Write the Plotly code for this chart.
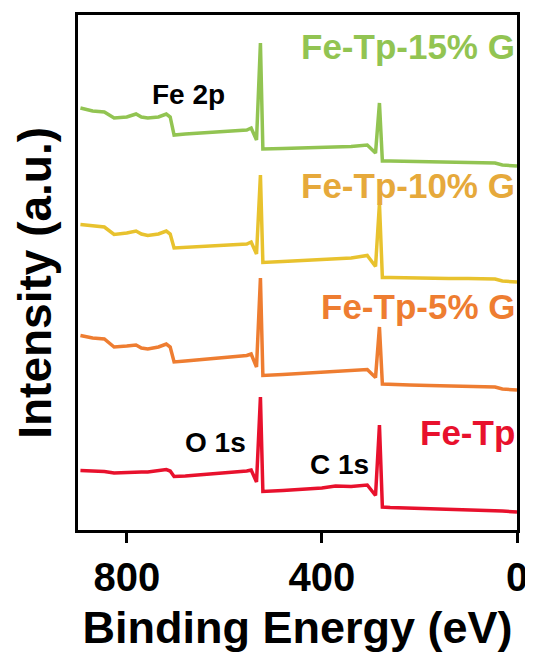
import plotly.graph_objects as go

# Binding energy (eV), shared by all spectra
energy = [895, 870, 846, 826, 800, 781, 770, 757, 735, 719, 711, 703, 680, 640, 600,
          554, 545, 534, 526, 521, 480, 440, 400, 372, 340, 307, 290, 282, 276, 260,
          220, 180, 140, 100, 60, 45, 30, 0]

# Offset intensities (a.u.)
fe_tp_15 = [422, 419, 418, 412, 413, 416, 413, 412, 413, 416, 413, 395, 396, 397, 398,
            400, 402, 390, 487, 381, 381.5, 382, 382.5, 383, 383.5, 385, 377, 427, 369, 369,
            368.5, 368, 368, 367.5, 367, 367, 365, 364]
fe_tp_10 = [305.5, 304, 303, 295.5, 297, 299, 296, 294.5, 296, 299, 296, 282, 282.5, 283.5, 284.5,
            286, 288, 276, 355, 267.5, 268.5, 269.5, 270.5, 271.5, 272, 274.5, 263.5, 326.5, 252.5, 252.5,
            252, 252, 251.5, 251.5, 251, 251, 249, 248]
fe_tp_5 = [194.5, 192, 191, 183, 184, 185, 182, 181, 183, 186, 183, 168, 169, 170.5, 172,
           174.5, 176, 163, 252, 154.5, 155.5, 156.5, 157.5, 158, 159, 160.5, 152.5, 203, 146, 145.5,
           145, 144.5, 144, 143.5, 143, 143, 141, 140]
fe_tp = [59.5, 59, 58.5, 57, 57.5, 58.5, 58, 58, 59, 60.5, 59, 53.5, 54, 55.5, 57,
         59, 60, 48, 133, 38.5, 39.5, 40.5, 42, 44, 43.5, 45, 34.5, 105, 23, 22.5,
         22, 21.5, 21, 20.5, 20, 20, 19, 18]

series_names = ["Fe-Tp", "Fe-Tp-5% G", "Fe-Tp-10% G", "Fe-Tp-15% G"]
line_colors = ["#e8112d", "#ee7d31", "#e8c22e", "#92c452"]
label_colors = ["#e8112d", "#ee7d31", "#e6a93b", "#92c452"]
x_ticks = [800, 400, 0]

FONT = "Liberation Sans, Arial, Helvetica, sans-serif"

fig = go.Figure()
for name, ys, col in zip(series_names, [fe_tp, fe_tp_5, fe_tp_10, fe_tp_15], line_colors):
    fig.add_trace(go.Scatter(x=energy, y=ys, mode="lines", name=name,
                             line=dict(color=col, width=3.5), showlegend=False))

# series labels
label_pos = [(1, 98), (1, 224), (1, 345), (1, 484)]
for name, col, (lx, ly) in zip(series_names, label_colors, label_pos):
    fig.add_annotation(x=lx, y=ly, xref="x", yref="y", text="<b>%s</b>" % name,
                       showarrow=False, xanchor="right", yanchor="middle",
                       font=dict(family=FONT, size=35, color=col))

# peak labels
peaks = [("Fe 2p", 673, 436), ("O 1s", 618, 88), ("C 1s", 363, 66)]
for txt, px, py in peaks:
    fig.add_annotation(x=px, y=py, xref="x", yref="y", text="<b>%s</b>" % txt,
                       showarrow=False, xanchor="center", yanchor="middle",
                       font=dict(family=FONT, size=28, color="black"))

# y-axis title
fig.add_annotation(x=-0.098, y=0.48, xref="paper", yref="paper",
                   text="<b>Intensity (a.u.)</b>", textangle=-90, showarrow=False,
                   xanchor="center", yanchor="middle",
                   font=dict(family=FONT, size=46, color="black"))

# page body keeps its default 8px margin, so the figure is 8px smaller
fig.update_layout(
    width=525, height=647,
    margin=dict(l=70, r=16, t=7, b=125, autoexpand=False),
    paper_bgcolor="white", plot_bgcolor="white",
    font=dict(family=FONT, color="black"),
)
fig.update_xaxes(
    range=[900, 0], tickvals=x_ticks, ticktext=["<b>%d</b>" % v for v in x_ticks],
    ticks="outside", ticklen=10, tickwidth=3, tickcolor="black",
    tickfont=dict(family=FONT, size=40, color="black"),
    showline=True, linewidth=3, linecolor="black", mirror=True,
    showgrid=False, zeroline=False,
    title=dict(text="<b>Binding Energy (eV)</b>", standoff=14,
               font=dict(family=FONT, size=45, color="black")),
    automargin=False,
)
fig.update_yaxes(
    range=[0, 515], showticklabels=False, ticks="",
    showline=True, linewidth=3, linecolor="black", mirror=True,
    showgrid=False, zeroline=False, automargin=False,
)

fig.write_html("out.html")
